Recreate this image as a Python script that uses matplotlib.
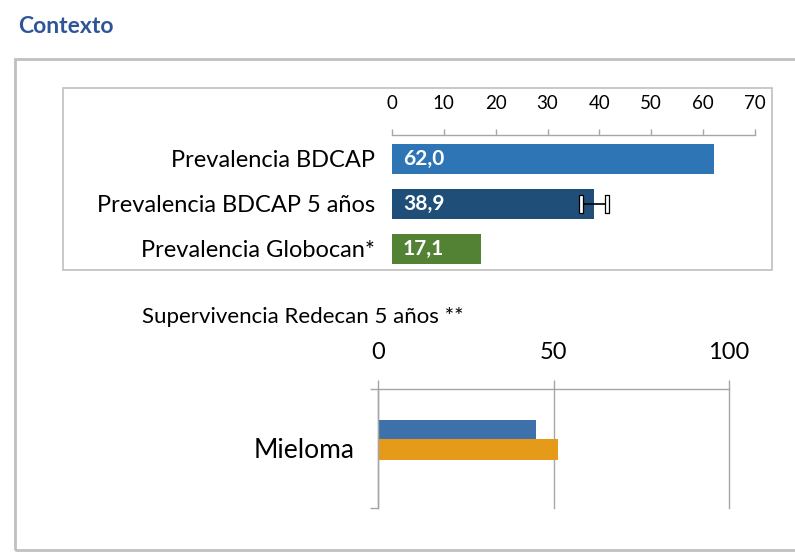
import matplotlib
matplotlib.use("Agg")
import matplotlib.pyplot as plt
from matplotlib.patches import Rectangle

# ---------------------------------------------------------------
# data
# ---------------------------------------------------------------
prev_labels = ["Prevalencia BDCAP", "Prevalencia BDCAP 5 años", "Prevalencia Globocan*"]
prev_values = [62.0, 38.9, 17.1]
prev_value_text = ["62,0", "38,9", "17,1"]
prev_colors = ["#2E75B6", "#1F4E79", "#548235"]
ci_low = [36.5]     # confidence interval for "BDCAP 5 años"
ci_high = [41.5]
prev_ticks = [0, 10, 20, 30, 40, 50, 60, 70]

surv_category = ["Mieloma"]
surv_series_a = [45.0]
surv_series_b = [51.3]
surv_colors = ["#3E70A9", "#E59A19"]
surv_ticks = [0, 50, 100]

plt.rcParams["font.family"] = ["Lato", "DejaVu Sans"]

W, H = 795, 552
fig = plt.figure(figsize=(W / 100, H / 100), dpi=100)


def px_axes(left, top, right, bottom):
    return fig.add_axes([left / W, 1 - bottom / H, (right - left) / W, (bottom - top) / H])


def px_rect(left, top, right, bottom, **kw):
    fig.patches.append(Rectangle((left / W, 1 - bottom / H), (right - left) / W,
                                 (bottom - top) / H, transform=fig.transFigure,
                                 fill=False, **kw))


GRAY = "#A6A6A6"

# frames
px_rect(15, 59, 805, 550, edgecolor="#C0C0C0", linewidth=2.0)
px_rect(63, 88, 772, 270, edgecolor="#BFBFBF", linewidth=1.2)

fig.text(18 / W, 1 - 33 / H, "Contexto", color="#2F5597", fontsize=16.5,
         fontweight="bold", va="baseline", ha="left")

# ---------------------------------------------------------------
# top chart: prevalence
# ---------------------------------------------------------------
ax = px_axes(392, 135, 755, 270)
ypos = list(range(len(prev_labels)))
ax.barh(ypos, prev_values, height=0.67, color=prev_colors, zorder=2)
ax.set_xlim(0, 70)
ax.set_ylim(2.48, -0.536)
ax.errorbar([prev_values[1]], [ypos[1]],
            xerr=[[prev_values[1] - ci_low[0]], [ci_high[0] - prev_values[1]]],
            fmt="none", ecolor="black", elinewidth=1.2, capsize=0, zorder=3)
cap_marker = [(-0.25, -1), (0.25, -1), (0.25, 1), (-0.25, 1), (-0.25, -1)]
ax.scatter([ci_low[0], ci_high[0]], [ypos[1], ypos[1]], marker=cap_marker, s=150,
           facecolor="white", edgecolor="black", linewidth=0.9, zorder=4)
for y, v, t in zip(ypos, prev_values, prev_value_text):
    ax.text(2.1, y, t, color="white", fontsize=15, fontweight="bold",
            va="center", ha="left", zorder=5)

ax.set_xticks(prev_ticks)
ax.set_yticks(ypos)
ax.set_yticklabels(prev_labels)
ax.xaxis.tick_top()
ax.tick_params(axis="x", which="both", top=True, bottom=False, direction="out",
               length=4.5, width=1, color=GRAY, labelsize=13.5, pad=12)
ax.tick_params(axis="y", length=0, labelsize=17, pad=12)
for s in ["left", "right", "bottom"]:
    ax.spines[s].set_visible(False)
ax.spines["top"].set_color(GRAY)
ax.spines["top"].set_linewidth(1)

# ---------------------------------------------------------------
# bottom chart: survival
# ---------------------------------------------------------------
fig.text(142 / W, 1 - 323 / H, "Supervivencia Redecan 5 años **", fontsize=16,
         va="baseline", ha="left")

ax2 = px_axes(378, 389, 729, 508)
ax2.barh([-0.160], surv_series_a, height=0.16, color=surv_colors[0], zorder=2)
ax2.barh([0.008], surv_series_b, height=0.176, color=surv_colors[1], zorder=2)
ax2.set_xlim(0, 100)
ax2.set_ylim(0.5, -0.5)
ax2.set_xticks(surv_ticks)
ax2.xaxis.tick_top()
ax2.grid(axis="x", color=GRAY, linewidth=1, zorder=0)
for gl in ax2.get_xgridlines():
    gl.set_clip_on(False)
ax2.set_yticks([0])
ax2.set_yticklabels(surv_category)
ax2.set_yticks([-0.5, 0.5], minor=True)
ax2.tick_params(axis="x", top=True, bottom=False, direction="out", length=6.5,
                width=1, color=GRAY, labelsize=17, pad=12)
ax2.tick_params(axis="y", which="major", length=0, labelsize=19, pad=17)
ax2.tick_params(axis="y", which="minor", length=5.8, width=1, color=GRAY)
for s in ["right", "bottom"]:
    ax2.spines[s].set_visible(False)
for s in ["top", "left"]:
    ax2.spines[s].set_color(GRAY)
    ax2.spines[s].set_linewidth(1)

fig.savefig("out.png", dpi=100)
